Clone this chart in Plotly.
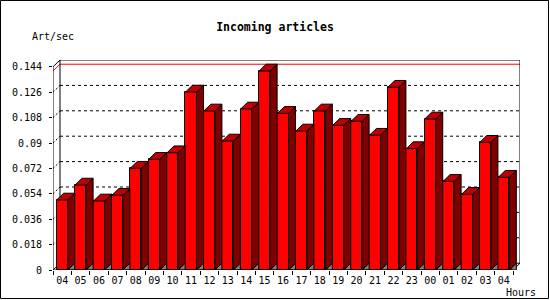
import plotly.graph_objects as go

hours = ["04","05","06","07","08","09","10","11","12","13","14","15","16","17","18","19",
         "20","21","22","23","00","01","02","03","04"]
rates = [0.0496,0.0602,0.0489,0.0529,0.0721,0.0784,0.0831,0.1261,0.1127,0.0914,0.1141,0.1410,
         0.1110,0.0985,0.1127,0.1025,0.1054,0.0955,0.1295,0.0860,0.1070,0.0628,0.0536,0.0905,0.0657]
ytick_vals = [0,0.018,0.036,0.054,0.072,0.09,0.108,0.126,0.144]
ytick_text = ["0","0.018","0.036","0.054","0.072","0.09","0.108","0.126","0.144"]

W, H = 550, 300
L, R, T, B = 53, 30, 60, 30
PW, PH = W - L - R, H - T - B
N = len(hours)
YMAX = 0.144
DX = 7 * (N + 0.0) / 460.0          # depth offset in x units (~7 px)
XR = [-0.5, N - 0.5 + DX]
px_per_x = PW / (XR[1] - XR[0])
px_per_y = (270 - 66.8) / YMAX
YTOP = PH / px_per_y
DY = YTOP - YMAX
BW = 0.6

FRONT = "#ff0000"; TOP = "#c00000"; SIDE = "#800000"; FLOOR = "#808080"
xs = list(range(N))

fig = go.Figure()

# front faces
fig.add_trace(go.Bar(x=xs, y=rates, width=BW, marker=dict(color=FRONT, line=dict(color="black", width=1)),
                     hoverinfo="skip", showlegend=False))

def poly_trace(polys, color):
    px, py = [], []
    for p in polys:
        for (a, b) in p + [p[0]]:
            px.append(a); py.append(b)
        px.append(None); py.append(None)
    return go.Scatter(x=px, y=py, mode="lines", fill="toself", fillcolor=color,
                      line=dict(color="black", width=1), hoverinfo="skip", showlegend=False)

tops, sides, tris = [], [], []
for i, v in zip(xs, rates):
    l, r = i - BW / 2, i + BW / 2
    tops.append([(l, v), (r, v), (r + DX, v + DY), (l + DX, v + DY)])
    sides.append([(r, 0), (r, v), (r + DX, v + DY), (r + DX, DY)])
    tris.append([(r, 0), (r + DX, DY), (r + DX, 0)])
fig.add_trace(poly_trace(tris, FLOOR))
fig.add_trace(poly_trace(sides, SIDE))
fig.add_trace(poly_trace(tops, TOP))

shapes = []
x0, x1 = -0.5, N - 0.5
blk = dict(color="black", width=1)
# gridlines on back wall + diagonals on left wall
for v in ytick_vals[1:-1]:
    shapes.append(dict(type="line", x0=x0 + DX, x1=x1 + DX, y0=v + DY, y1=v + DY, layer="below",
                       line=dict(color="black", width=1, dash="3px,3px")))
    shapes.append(dict(type="line", x0=x0, x1=x0 + DX, y0=v, y1=v + DY, layer="below",
                       line=dict(color="black", width=1, dash="2px,2px")))
# max line
mx = max(rates)
shapes.append(dict(type="line", x0=x0 + DX, x1=x1 + DX, y0=mx + DY, y1=mx + DY, layer="below",
                   line=dict(color="red", width=1)))
shapes.append(dict(type="line", x0=x0, x1=x0 + DX, y0=mx, y1=mx + DY, layer="below",
                   line=dict(color="red", width=1)))
# walls
for (a, b, c, d) in [
    (x0 + DX, DY, x0 + DX, YMAX + DY),
    (x0 + DX, YMAX + DY, x1 + DX, YMAX + DY),
    (x1 + DX, DY, x1 + DX, YMAX + DY),
    (x0, YMAX, x0 + DX, YMAX + DY),
    (x0, 0, x0 + DX, DY),
    (x1, 0, x1 + DX, DY),
    (x0 + DX, DY, x1 + DX, DY),
]:
    shapes.append(dict(type="line", x0=a, y0=b, x1=c, y1=d, layer="below", line=blk))
# front axes (above)
shapes.append(dict(type="line", x0=x0, y0=0, x1=x0, y1=YMAX, line=blk))
shapes.append(dict(type="line", x0=x0, y0=0, x1=x1, y1=0, line=blk))

# outer frame (paper coords)
def pxx(p): return (p - L) / PW
def pyy(p): return (H - B - p) / PH
shapes.append(dict(type="rect", xref="paper", yref="paper", x0=pxx(0.5), x1=pxx(548.5),
                   y0=pyy(0.5), y1=pyy(298.5), line=blk, fillcolor="rgba(0,0,0,0)"))

mono = "DejaVu Sans Mono"
fig.update_layout(
    width=W, height=H, margin=dict(l=L, r=R, t=T, b=B, pad=0),
    paper_bgcolor="white", plot_bgcolor="white", showlegend=False, bargap=0,
    shapes=shapes,
    font=dict(family=mono, size=10, color="black"),
    title=dict(text="<b>Incoming articles</b>", xref="container", yref="container", x=0.5, y=1 - 27 / H,
               xanchor="center", yanchor="middle", font=dict(family=mono, size=11.5, color="black")),
    xaxis=dict(range=XR, tickmode="array", tickvals=xs, ticktext=hours, ticks="", showgrid=False,
               zeroline=False, showline=False, ticklabelstandoff=3,
               minor=dict(tickmode="array", tickvals=[i - 0.5 for i in range(N + 1)], ticks="outside",
                          ticklen=4, tickcolor="black", tickwidth=1, showgrid=False)),
    yaxis=dict(range=[0, YTOP], tickmode="array", tickvals=ytick_vals, ticktext=ytick_text,
               ticks="outside", ticklen=3, tickcolor="black", showgrid=False, zeroline=False,
               showline=False, ticklabelstandoff=5),
    annotations=[
        dict(text="Art/sec", xref="paper", yref="paper", x=pxx(30), y=pyy(36.7), xanchor="left",
             yanchor="middle", showarrow=False, font=dict(family=mono, size=10)),
        dict(text="Hours", xref="paper", yref="paper", x=pxx(504), y=pyy(292.7), xanchor="left",
             yanchor="middle", showarrow=False, font=dict(family=mono, size=10)),
    ],
)
fig.write_html("out.html")
